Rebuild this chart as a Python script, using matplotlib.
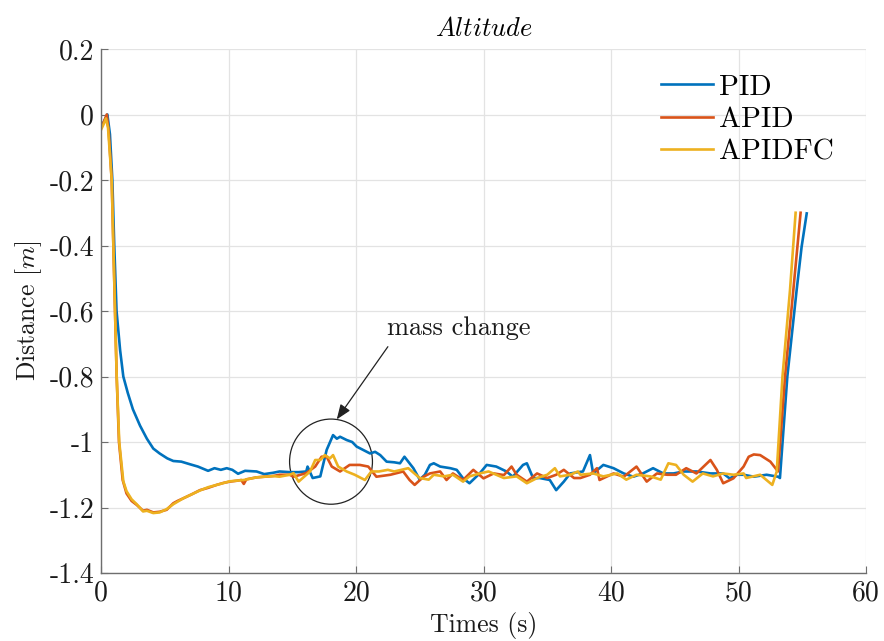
import matplotlib
matplotlib.use("Agg")
import matplotlib.pyplot as plt
from matplotlib.patches import Ellipse
from matplotlib.ticker import FuncFormatter

plt.rcParams['font.family'] = 'serif'
plt.rcParams['font.serif'] = ['cmr10']
plt.rcParams['mathtext.fontset'] = 'cm'
plt.rcParams['axes.unicode_minus'] = False

# ---- data -------------------------------------------------------------
pid_t = [0, 0.25, 0.5, 0.7, 0.89, 1.04, 1.22, 1.5, 1.75, 2.1, 2.5, 3.06, 3.6, 4.1,
         4.6, 5.2, 5.67, 6.3, 6.98, 7.6, 8.4, 8.9, 9.4, 9.86, 10.3, 10.75, 11.3,
         12.2, 12.8, 13.5, 14.0, 14.8, 15.5, 16.1, 16.2, 16.6, 17.2, 17.7, 18.2,
         18.5, 18.75, 19.27, 19.7, 20.05, 20.6, 21.1, 21.5, 21.9, 22.4, 23.0,
         23.45, 23.8, 24.5, 25.0, 25.4, 25.8, 26.1, 26.6, 27.4, 27.9, 28.4, 28.9,
         29.7, 30.25, 31.0, 31.8, 32.3, 33.1, 33.4, 33.9, 34.4, 35.2, 35.7, 36.3,
         36.8, 37.8, 38.35, 38.6, 39.4, 40.2, 41.0, 41.75, 42.5, 43.3, 44.1, 44.9,
         45.7, 46.7, 47.8, 48.8, 49.3, 49.9, 50.4, 51.2, 52.2, 53.1, 53.25, 53.83,
         54.56, 54.95, 55.35]
pid_y = [-0.04, -0.02, 0.0, -0.06, -0.2, -0.4, -0.6, -0.72, -0.8, -0.85, -0.9,
         -0.95, -0.99, -1.02, -1.035, -1.05, -1.058, -1.06, -1.068, -1.075, -1.088,
         -1.08, -1.085, -1.08, -1.085, -1.097, -1.088, -1.09, -1.098, -1.094, -1.09,
         -1.092, -1.092, -1.09, -1.075, -1.11, -1.105, -1.024, -0.979, -0.99,
         -0.984, -0.994, -1.0, -1.014, -1.025, -1.035, -1.03, -1.04, -1.06, -1.062,
         -1.065, -1.045, -1.08, -1.115, -1.10, -1.07, -1.065, -1.075, -1.08, -1.085,
         -1.111, -1.126, -1.096, -1.07, -1.075, -1.09, -1.106, -1.07, -1.065,
         -1.111, -1.11, -1.116, -1.147, -1.121, -1.096, -1.09, -1.04, -1.096,
         -1.07, -1.08, -1.096, -1.106, -1.096, -1.08, -1.096, -1.096, -1.09, -1.09,
         -1.096, -1.096, -1.111, -1.1, -1.1, -1.106, -1.1, -1.106, -1.11, -0.8,
         -0.536, -0.404, -0.302]

apid_t = [0, 0.25, 0.45, 0.6, 0.84, 0.97, 1.1, 1.23, 1.41, 1.7, 2.0, 2.4, 2.8, 3.3,
          3.6, 4.1, 4.6, 5.15, 5.67, 6.0, 6.45, 7.1, 7.76, 8.4, 9.07, 9.6, 10.1,
          10.7, 11.0, 11.2, 11.4, 12.2, 12.8, 13.5, 14.0, 14.8, 15.1, 16.1, 16.8,
          17.3, 17.7, 18.1, 18.75, 19.5, 20.3, 20.96, 21.6, 22.7, 23.7, 24.2, 24.6,
          25.3, 25.8, 26.6, 27.1, 27.6, 28.4, 29.2, 30.0, 30.8, 31.6, 32.2, 32.6,
          33.4, 34.2, 35.0, 35.7, 36.3, 37.1, 37.6, 38.35, 38.9, 39.1, 40.2, 41.0,
          42.0, 42.8, 43.6, 44.4, 45.1, 45.9, 46.7, 47.8, 48.3, 48.8, 49.6, 50.4,
          50.8, 51.2, 51.7, 52.5, 53.1, 53.65, 54.3, 54.87]
apid_y = [-0.04, -0.02, 0.0, -0.05, -0.2, -0.4, -0.6, -0.8, -1.0, -1.116, -1.157,
          -1.18, -1.192, -1.21, -1.207, -1.215, -1.213, -1.207, -1.187, -1.18,
          -1.172, -1.16, -1.147, -1.14, -1.131, -1.125, -1.121, -1.118, -1.116,
          -1.128, -1.114, -1.108, -1.106, -1.104, -1.10, -1.10, -1.106, -1.095,
          -1.075, -1.045, -1.045, -1.075, -1.09, -1.07, -1.07, -1.075, -1.106, -1.1,
          -1.09, -1.116, -1.131, -1.106, -1.096, -1.09, -1.116, -1.096, -1.116,
          -1.085, -1.111, -1.096, -1.101, -1.075, -1.1, -1.121, -1.096, -1.11,
          -1.1, -1.085, -1.11, -1.11, -1.1, -1.08, -1.116, -1.096, -1.106, -1.075,
          -1.121, -1.096, -1.1, -1.1, -1.08, -1.096, -1.055, -1.085, -1.126, -1.111,
          -1.075, -1.045, -1.038, -1.04, -1.06, -1.09, -0.8, -0.536, -0.30]

apidfc_t = [0, 0.2, 0.39, 0.55, 0.84, 0.97, 1.1, 1.23, 1.43, 1.75, 2.0, 2.4, 2.8,
            3.3, 3.6, 4.1, 4.6, 5.15, 5.67, 6.45, 7.1, 7.76, 8.4, 9.07, 10.1, 11.2,
            12.2, 13.5, 14.0, 14.8, 15.1, 15.5, 16.4, 16.8, 17.2, 17.55, 17.96,
            18.2, 18.6, 19.27, 19.9, 20.7, 21.2, 21.8, 22.5, 23.0, 24.1, 25.0, 25.7,
            26.1, 26.9, 27.6, 28.4, 28.9, 29.7, 30.4, 31.6, 32.6, 33.4, 34.2, 35.0,
            35.6, 36.0, 36.8, 37.4, 37.6, 38.6, 39.4, 40.5, 41.2, 42.0, 43.1, 43.9,
            44.5, 45.1, 45.7, 46.4, 47.2, 48.0, 48.8, 49.6, 50.4, 50.6, 51.7, 52.65,
            53.0, 53.45, 54.04, 54.48]
apidfc_y = [-0.047, -0.03, -0.012, -0.04, -0.2, -0.4, -0.6, -0.8, -1.0, -1.12,
            -1.15, -1.175, -1.19, -1.212, -1.21, -1.217, -1.215, -1.205, -1.19,
            -1.172, -1.16, -1.148, -1.138, -1.131, -1.12, -1.116, -1.108, -1.104,
            -1.106, -1.1, -1.095, -1.121, -1.09, -1.055, -1.055, -1.04, -1.05,
            -1.04, -1.075, -1.09, -1.1, -1.116, -1.09, -1.09, -1.085, -1.09, -1.08,
            -1.11, -1.115, -1.1, -1.105, -1.1, -1.121, -1.105, -1.096, -1.09, -1.11,
            -1.105, -1.126, -1.11, -1.1, -1.08, -1.105, -1.1, -1.09, -1.1, -1.096,
            -1.105, -1.096, -1.115, -1.1, -1.105, -1.115, -1.065, -1.07, -1.1,
            -1.121, -1.096, -1.105, -1.096, -1.1, -1.096, -1.11, -1.1, -1.131,
            -1.09, -0.8, -0.536, -0.30]

x_ticks = [0, 10, 20, 30, 40, 50, 60]
y_ticks = [0.2, 0, -0.2, -0.4, -0.6, -0.8, -1, -1.2, -1.4]

# ---- figure ------------------------------------------------------------
fig = plt.figure(figsize=(8.84, 6.41), dpi=100)
ax = fig.add_axes([101 / 884, 1 - 573 / 641, 765 / 884, 524 / 641])

lw = 1.9
ax.plot(pid_t, pid_y, color='#0072BD', lw=lw, label='PID')
ax.plot(apid_t, apid_y, color='#D95319', lw=lw, label='APID')
ax.plot(apidfc_t, apidfc_y, color='#EDB120', lw=lw, label='APIDFC')

ax.set_xlim(0, 60)
ax.set_ylim(-1.4, 0.2)
ax.set_xticks(x_ticks)
ax.set_yticks(y_ticks)
fmt = FuncFormatter(lambda v, p: '%g' % v)
ax.xaxis.set_major_formatter(fmt)
ax.yaxis.set_major_formatter(fmt)

ax.grid(True, color='#e3e3e3', lw=0.9)
ax.set_axisbelow(True)
for side in ('top', 'right'):
    ax.spines[side].set_visible(False)
for side in ('left', 'bottom'):
    ax.spines[side].set_color('#6e6e6e')
    ax.spines[side].set_linewidth(1.0)
ax.tick_params(direction='in', length=5, width=0.8, color='#6e6e6e',
               labelsize=20, labelcolor='#1a1a1a', pad=5)

ax.set_title(r'$\mathit{Altitude}$', fontsize=19, pad=9)
ax.set_xlabel('Times (s)', fontsize=18.5, color='#1a1a1a', labelpad=4)
ax.set_ylabel(r'Distance [$m$]', fontsize=18.5, color='#1a1a1a', labelpad=4)

leg = ax.legend(loc='upper right', bbox_to_anchor=(0.992, 1.002), frameon=False,
                fontsize=21, handlelength=1.8, handletextpad=0.2,
                labelspacing=0.2)

# highlight of the mass-change disturbance
ax.add_patch(Ellipse((18.04, -1.06), width=6.5, height=0.26, fill=False,
                     ec='#222222', lw=0.9))
ax.annotate('', xy=(18.49, -0.931), xytext=(22.5, -0.709),
            arrowprops=dict(arrowstyle='-|>,head_length=0.9,head_width=0.35',
                            color='#222222', lw=0.9, shrinkA=0, shrinkB=0))
ax.text(22.4, -0.652, 'mass change', fontsize=19, ha='left', va='center',
        color='#1a1a1a')

fig.savefig('out.png', dpi=100)
